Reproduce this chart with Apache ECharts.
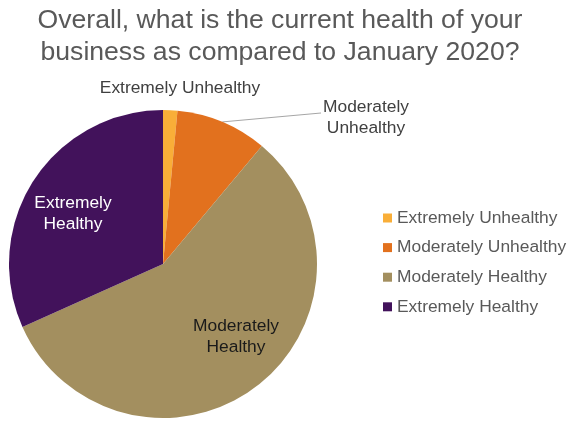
<!DOCTYPE html>
<html>
<head>
<meta charset="utf-8">
<script src="https://cdn.jsdelivr.net/npm/echarts@6/dist/echarts.min.js"></script>
<style>
html,body{margin:0;padding:0;background:#fff;}
#chart{width:577px;height:421px;}
</style>
</head>
<body>
<div id="chart"></div>
<script>
var titleText = 'Overall, what is the current health of your\nbusiness as compared to January 2020?';
var categories = ['Extremely Unhealthy', 'Moderately Unhealthy', 'Moderately Healthy', 'Extremely Healthy'];
var values = [1.5, 9.6, 57.2, 31.7];
var sliceLabels = ['Extremely Unhealthy', 'Moderately\nUnhealthy', 'Moderately\nHealthy', 'Extremely\nHealthy'];
var colors = ['#F9AE38', '#E2711E', '#A38F5F', '#42125B'];

var labelStyles = [
  {position: 'outside', color: '#404040'},
  {position: 'outside', color: '#404040'},
  {position: 'inside', color: '#1a1a1a'},
  {position: 'inside', color: '#ffffff'}
];
var labelSpots = [[180, 88], [366, 118], [236, 337], [73, 214]];

var data = categories.map(function (c, i) {
  return {
    name: c,
    value: values[i],
    itemStyle: {color: colors[i]},
    label: {
      show: true,
      position: labelStyles[i].position,
      color: labelStyles[i].color,
      formatter: sliceLabels[i]
    },
    labelLine: {show: i === 1, length: 20, length2: 40, lineStyle: {color: '#a6a6a6', width: 1}}
  };
});

var chart = echarts.init(document.getElementById('chart'), null, {renderer: 'canvas'});
chart.setOption({
  animation: false,
  backgroundColor: '#ffffff',
  title: {
    text: titleText,
    left: 280,
    top: 5,
    padding: 0,
    textAlign: 'center',
    textStyle: {
      fontFamily: 'Liberation Sans',
      fontSize: 26.6,
      fontWeight: 'normal',
      color: '#595959',
      lineHeight: 32
    }
  },
  legend: {
    orient: 'vertical',
    left: 383,
    top: 208,
    padding: 0,
    icon: 'rect',
    itemWidth: 9,
    itemHeight: 9,
    itemGap: 9.6,
    data: categories,
    textStyle: {
      fontFamily: 'Liberation Sans',
      fontSize: 17.4,
      color: '#595959',
      lineHeight: 20
    }
  },
  series: [{
    type: 'pie',
    center: [163, 264],
    radius: 154,
    startAngle: 90,
    clockwise: true,
    avoidLabelOverlap: false,
    label: {
      fontFamily: 'Liberation Sans',
      fontSize: 17.4,
      lineHeight: 21,
      align: 'center'
    },
    labelLayout: function (p) {
      var s = labelSpots[p.dataIndex];
      var r = {x: s[0], y: s[1], align: 'center', verticalAlign: 'middle'};
      if (p.dataIndex === 1 && p.labelLinePoints) {
        var p0 = p.labelLinePoints[0];
        r.labelLinePoints = [p0, [321, 113], [321, 113]];
      }
      return r;
    },
    emphasis: {disabled: true},
    data: data
  }]
});
</script>
</body>
</html>
